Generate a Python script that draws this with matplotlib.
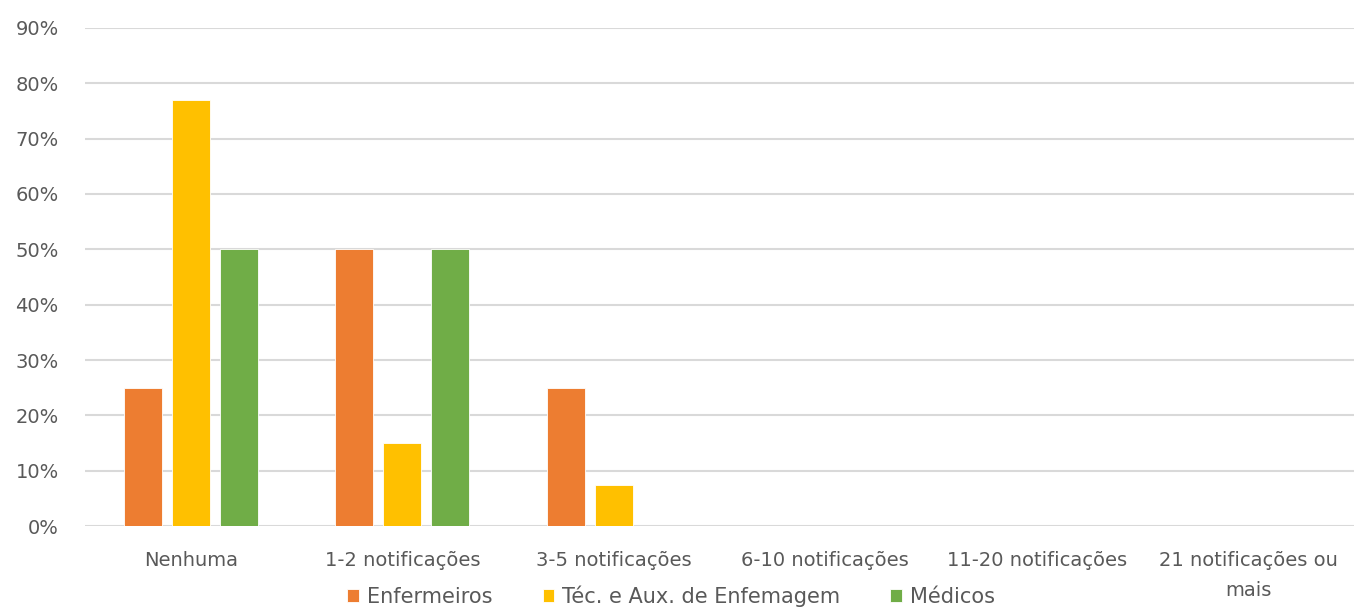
import numpy as np
import matplotlib
matplotlib.use('Agg')
import matplotlib.pyplot as plt
from matplotlib.ticker import PercentFormatter

# share of professionals by number of incident reports
categorias = ['Nenhuma', '1-2 notificações', '3-5 notificações', '6-10 notificações',
              '11-20 notificações', '21 notificações ou\nmais']
enfermeiros = [25, 50, 25, 0, 0, 0]
tecnicos = [77, 15, 7.5, 0, 0, 0]
medicos = [50, 50, 0, 0, 0, 0]
series = ['Enfermeiros', 'Téc. e Aux. de Enfemagem', 'Médicos']
cores = ['#ED7D31', '#FFC000', '#70AD47']

plt.rcParams['font.family'] = ['DejaVu Sans']

fig = plt.figure(figsize=(13.56, 6.07), dpi=100)
ax = fig.add_axes([0.0627, 0.1334, 0.9358, 0.8205])

x = np.arange(len(categorias))
larg = 0.18
passo = 0.227
for i, (vals, nome, cor) in enumerate(zip([enfermeiros, tecnicos, medicos], series, cores)):
    ax.bar(x + (i - 1) * passo, vals, larg, color=cor, label=nome,
           edgecolor='white', linewidth=0.6, zorder=3)

ax.set_xlim(-0.5, len(categorias) - 0.5)
ax.set_ylim(0, 90)
ax.set_yticks(np.arange(0, 91, 10))
ax.yaxis.set_major_formatter(PercentFormatter(decimals=0))
ax.set_xticks(x)
ax.set_xticklabels(categorias, linespacing=1.75)
ax.tick_params(axis='both', length=0, labelsize=14, colors='#595959')
ax.tick_params(axis='x', pad=18)
ax.tick_params(axis='y', pad=19)
ax.grid(axis='y', color='#d9d9d9', linewidth=1.5, zorder=0)
for s in ax.spines.values():
    s.set_visible(False)

fig.legend(loc='center', bbox_to_anchor=(0.495, 0.018), ncol=3, frameon=False,
           fontsize=15, handlelength=0.55, handleheight=0.55, handletextpad=0.4,
           columnspacing=2.4, labelcolor='#595959')

fig.savefig('out.png', dpi=100, facecolor='white')
